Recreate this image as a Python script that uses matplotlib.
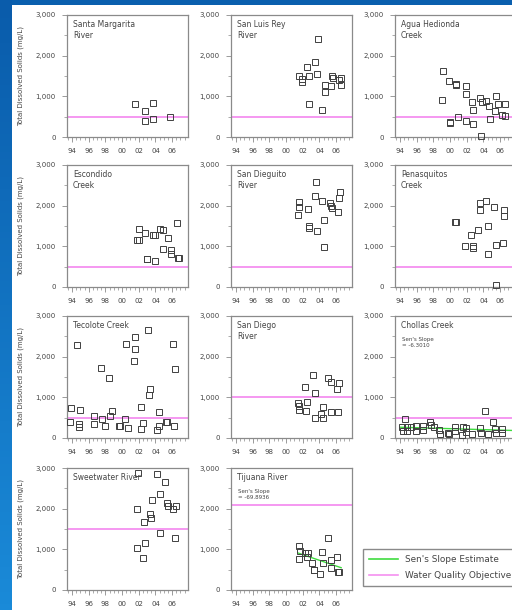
import matplotlib
matplotlib.use("Agg")
import matplotlib.pyplot as plt
import numpy as np
from matplotlib.lines import Line2D
from matplotlib.patches import Rectangle
from matplotlib.colors import LinearSegmentedColormap
from matplotlib.ticker import FixedLocator, MultipleLocator, FuncFormatter

# ---- data (year, TDS mg/L) ----
titles = ["Santa Margarita\nRiver", "San Luis Rey\nRiver", "Agua Hedionda\nCreek",
          "Escondido\nCreek", "San Dieguito\nRiver", "Penasquitos\nCreek",
          "Tecolote Creek", "San Diego\nRiver", "Chollas Creek",
          "Sweetwater River", "Tijuana River"]
objectives = [500, 500, 500, 500, 500, 500, 500, 1000, 500, 1500, 2100]

santa_margarita_yr = [2001.6, 2002.8, 2002.8, 2003.75, 2003.75, 2005.7]
santa_margarita_tds = [820, 630, 385, 835, 450, 500]

san_luis_rey_yr = [2001.6, 2001.85, 2001.85, 2002.55, 2002.8, 2002.8, 2003.45, 2003.7, 2003.8,
                   2004.35, 2004.7, 2004.7, 2005.35, 2005.45, 2005.6, 2006.4, 2006.6, 2006.6]
san_luis_rey_tds = [1490, 1420, 1355, 1725, 1500, 820, 1850, 1545, 2410,
                    655, 1270, 1100, 1245, 1495, 1450, 1395, 1460, 1290]

agua_hedionda_yr = [1999.0, 1999.1, 1999.85, 2000.0, 2000.05, 2000.7, 2000.75, 2000.9, 2001.85,
                    2001.85, 2001.95, 2002.6, 2002.8, 2002.8, 2003.55, 2003.7, 2003.8, 2004.35,
                    2004.65, 2004.75, 2005.35, 2005.5, 2005.7, 2006.2, 2006.6, 2006.6]
agua_hedionda_tds = [900, 1620, 1370, 360, 350, 1300, 1290, 500, 1255,
                     1050, 400, 855, 655, 325, 955, 35, 855, 880,
                     765, 435, 635, 1010, 805, 530, 520, 810]

escondido_yr = [2001.8, 2002.0, 2002.0, 2002.75, 2002.95, 2003.0, 2003.7, 2003.9, 2003.9,
                2004.5, 2004.9, 2004.9, 2005.5, 2005.9, 2005.9, 2006.55, 2006.7, 2006.85]
escondido_tds = [1145, 1430, 1145, 1340, 690, 680, 1285, 1285, 645,
                 1430, 1400, 940, 1200, 915, 820, 1570, 715, 710]

san_dieguito_yr = [2001.45, 2001.5, 2001.6, 2002.6, 2002.7, 2002.75, 2003.5, 2003.55, 2003.65,
                   2004.25, 2004.5, 2004.5, 2005.25, 2005.4, 2005.55, 2006.2, 2006.35, 2006.45]
san_dieguito_tds = [1765, 2100, 1960, 1915, 1460, 1490, 2240, 2590, 1375,
                    2115, 1650, 995, 2075, 1990, 1940, 1855, 2200, 2345]

penasquitos_yr = [2000.6, 2000.75, 2001.8, 2002.55, 2002.7, 2002.8, 2003.4, 2003.6, 2003.6,
                  2004.3, 2004.6, 2004.6, 2005.3, 2005.55, 2005.55, 2006.3, 2006.45, 2006.45]
penasquitos_tds = [1590, 1590, 1020, 1285, 960, 1010, 1390, 2060, 1895,
                   2125, 1510, 815, 1955, 1040, 55, 1080, 1900, 1750]

tecolote_yr = [1993.9, 1993.8, 1994.6, 1994.9, 1994.8, 1994.8, 1996.6, 1996.6, 1997.5,
               1997.6, 1997.9, 1998.45, 1998.8, 1998.6, 1999.65, 1999.75, 2000.45, 2000.4,
               2000.65, 2001.4, 2001.55, 2001.55, 2002.3, 2002.3, 2002.55, 2003.15, 2003.4,
               2003.2, 2004.15, 2004.4, 2004.4, 2005.3, 2005.35, 2006.1, 2006.2, 2006.3]
tecolote_tds = [745, 405, 2295, 690, 350, 265, 550, 350, 1725,
                455, 305, 1485, 655, 550, 295, 290, 2310, 455,
                250, 1890, 2480, 2195, 755, 225, 365, 2660, 1200,
                1060, 185, 635, 290, 390, 385, 2310, 305, 1685]

san_diego_yr = [2001.4, 2001.55, 2001.6, 2002.25, 2002.35, 2002.55, 2003.25, 2003.45, 2003.5,
                2004.15, 2004.45, 2004.45, 2005.05, 2005.35, 2005.4, 2006.15, 2006.2, 2006.3]
san_diego_tds = [860, 690, 780, 1255, 670, 890, 1540, 1100, 495,
                 590, 755, 495, 1485, 1375, 650, 1200, 650, 1345]

chollas_yr = [1994.2, 1994.4, 1994.65, 1994.85, 1994.85, 1995.35, 1995.9, 1995.9, 1996.8,
              1996.8, 1997.55, 1997.7, 1998.1, 1998.65, 1998.75, 1999.8, 1999.85, 2000.6,
              2000.6, 2001.4, 2001.6, 2001.95, 2001.9, 2002.6, 2003.55, 2003.7, 2004.2,
              2004.55, 2005.1, 2005.4, 2005.5, 2006.2, 2006.2]
chollas_tds = [270, 160, 455, 270, 160, 270, 290, 160, 290,
               190, 390, 325, 270, 190, 105, 120, 105, 270,
               160, 80, 270, 245, 145, 105, 245, 130, 655,
               105, 405, 225, 130, 225, 130]

sweetwater_yr = [2001.75, 2001.75, 2001.95, 2002.5, 2002.6, 2002.7, 2003.3, 2003.5, 2003.6,
                 2004.2, 2004.5, 2004.5, 2005.15, 2005.35, 2005.45, 2006.15, 2006.3, 2006.45]
sweetwater_tds = [1990, 1045, 2875, 795, 1660, 1150, 1875, 1765, 2220,
                  2860, 2365, 1400, 2645, 2150, 2055, 1990, 1290, 2055]

tijuana_yr = [2001.5, 2001.55, 2001.65, 2002.25, 2002.55, 2002.6, 2003.15, 2003.3, 2003.4,
              2004.1, 2004.35, 2004.45, 2005.05, 2005.35, 2005.35, 2006.1, 2006.25, 2006.35]
tijuana_tds = [755, 1085, 970, 905, 805, 905, 660, 495, 490,
               395, 945, 675, 1290, 740, 535, 805, 445, 440]

# Sen's slope lines (start/end)
chollas_sen_yr = [1994.0, 2007.9]
chollas_sen_tds = [265, 183]
tijuana_sen_yr = [2001.5, 2006.6]
tijuana_sen_tds = [905, 548]

year_labels = ["94", "96", "98", "00", "02", "04", "06"]
year_label_pos = [1994, 1996, 1998, 2000, 2002, 2004, 2006]

series = [(santa_margarita_yr, santa_margarita_tds), (san_luis_rey_yr, san_luis_rey_tds),
          (agua_hedionda_yr, agua_hedionda_tds), (escondido_yr, escondido_tds),
          (san_dieguito_yr, san_dieguito_tds), (penasquitos_yr, penasquitos_tds),
          (tecolote_yr, tecolote_tds), (san_diego_yr, san_diego_tds),
          (chollas_yr, chollas_tds), (sweetwater_yr, sweetwater_tds),
          (tijuana_yr, tijuana_tds)]

PINK = "#f590f0"
GREEN = "#3fdc3f"
GRAY = "#8a8a8a"
TXT = "#444444"

W, H = 512, 610
fig = plt.figure(figsize=(W / 100, H / 100), dpi=100)
fig.patch.set_facecolor("#0a5fae")

# left blue strip, a bit lighter towards the bottom
strip = fig.add_axes([0, 0, 12 / W, 1], zorder=-20)
strip.imshow(np.linspace(0, 1, 100).reshape(-1, 1), aspect="auto",
             cmap=LinearSegmentedColormap.from_list("b", ["#0a5cab", "#1a8ad8"]))
strip.axis("off")

# white slide area, behind the axes
fig.patches.append(Rectangle((12 / W, 0), 1, 1 - 5 / H, transform=fig.transFigure,
                             facecolor="white", edgecolor="none", zorder=-10))

col_left = [67, 231, 395]
row_top = [15, 165, 316, 468]
ax_w, ax_h = 121, 122

for i, (yr, tds) in enumerate(series):
    r, c = divmod(i, 3)
    left = col_left[c] / W
    bottom = 1 - (row_top[r] + ax_h) / H
    ax = fig.add_axes([left, bottom, ax_w / W, ax_h / H])
    ax.set_facecolor("white")
    ax.set_xlim(1993.4, 2007.9)
    ax.set_ylim(0, 3000)

    ax.axhline(objectives[i], color=PINK, lw=1.3, zorder=1)
    ax.plot(yr, tds, linestyle="none", marker="s", markersize=3.7,
            markerfacecolor="none", markeredgecolor="#404040", markeredgewidth=0.7,
            clip_on=False, zorder=3)

    ax.text(0.05, 0.955, titles[i], transform=ax.transAxes, fontsize=5.5,
            color=TXT, va="top", ha="left", linespacing=1.15)
    if i == 8:
        ax.plot(chollas_sen_yr, chollas_sen_tds, color=GREEN, lw=1.0, zorder=2)
        ax.text(0.06, 0.83, "Sen's Slope\n= -6.3010", transform=ax.transAxes,
                fontsize=4, color=TXT, va="top", ha="left")
    if i == 10:
        ax.plot(tijuana_sen_yr, tijuana_sen_tds, color=GREEN, lw=1.0, zorder=2)
        ax.text(0.06, 0.83, "Sen's Slope\n= -69.8936", transform=ax.transAxes,
                fontsize=4, color=TXT, va="top", ha="left")

    for s in ax.spines.values():
        s.set_color(GRAY)
        s.set_linewidth(0.9)

    ax.xaxis.set_major_locator(FixedLocator(year_label_pos))
    ax.set_xticklabels(year_labels)
    ax.xaxis.set_minor_locator(MultipleLocator(0.5))
    ax.yaxis.set_major_locator(MultipleLocator(1000))
    ax.yaxis.set_minor_locator(MultipleLocator(500))
    ax.yaxis.set_major_formatter(FuncFormatter(lambda v, p: f"{int(v):,}"))
    ax.tick_params(which="major", direction="out", length=3.5, width=0.6,
                   color=GRAY, labelsize=5, labelcolor=TXT, pad=4.5)
    ax.tick_params(which="minor", direction="out", length=2, width=0.5, color=GRAY)

    if c == 0:
        fig.text(21 / W, bottom + ax_h / H / 2, "Total Dissolved Solids (mg/L)",
                 rotation=90, ha="center", va="center", fontsize=5, color=TXT)

handles = [Line2D([], [], color=GREEN, lw=1.2), Line2D([], [], color=PINK, lw=1.2)]
fig.legend(handles, ["Sen's Slope Estimate", "Water Quality Objective"],
           loc="upper left", bbox_to_anchor=(363 / W, 1 - 549 / H),
           fontsize=6.4, frameon=True, fancybox=False, edgecolor=GRAY,
           handlelength=3.3, borderaxespad=0, labelspacing=0.85, borderpad=0.65,
           labelcolor=TXT, framealpha=1)

fig.savefig("out.png", dpi=100)
